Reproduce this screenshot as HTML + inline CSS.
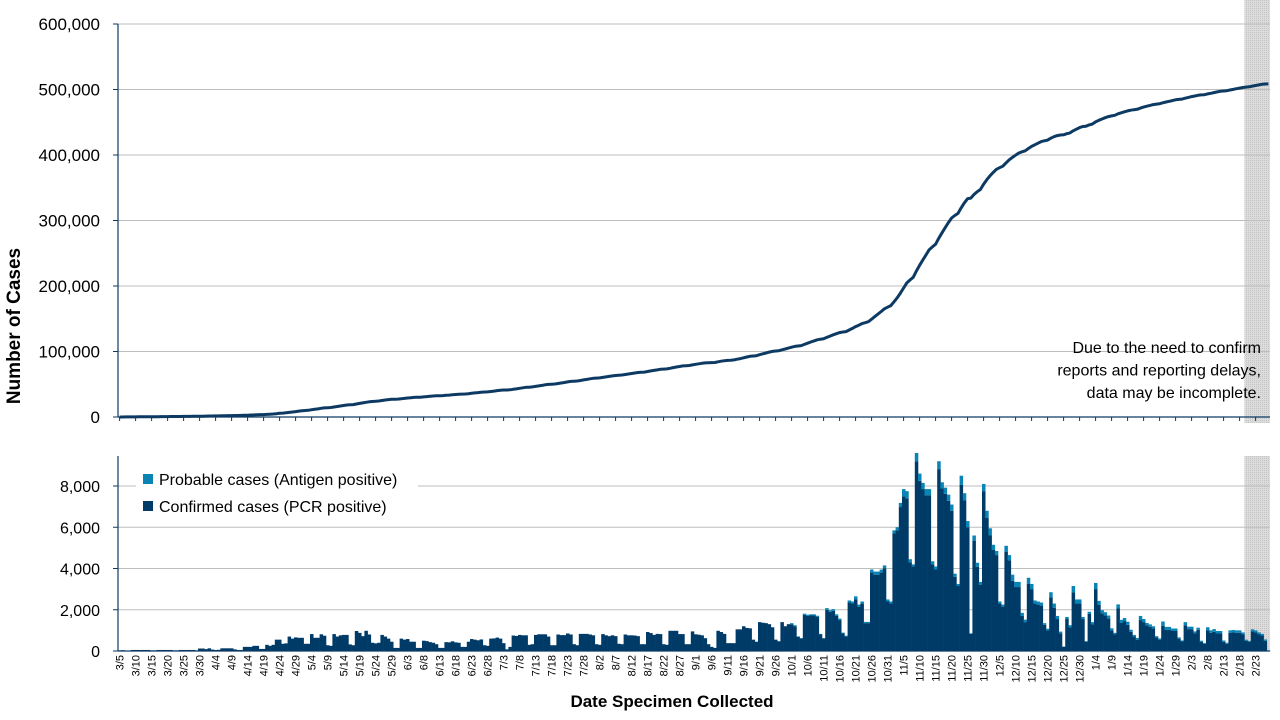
<!DOCTYPE html>
<html><head><meta charset="utf-8"><style>
html,body{margin:0;padding:0;background:#fff;}
svg{display:block;font-family:"Liberation Sans",sans-serif;}
</style></head><body>
<svg id="chart" width="1280" height="720" viewBox="0 0 1280 720">
<defs>
<pattern id="dots" width="2" height="2" patternUnits="userSpaceOnUse"><rect width="2" height="2" fill="#dcdcdc"/><rect width="1" height="1" fill="#c4c4c4"/></pattern>
</defs>
</svg>
<script>
const confirmedMar=[30,40,20,10,50,50,50,50,50,50,30,30,50,50,50,50,50,30,30,50,50,50,50,50,30,120,120];
const confirmedApr=[90,130,70,50,60,130,130,130,130,80,50,50,200,200,200,250,250,100,100,300,250,300,550,550,350,370,700,600,660,640];
const confirmedMay=[640,350,350,820,640,640,810,740,280,250,820,700,760,780,780,320,280,970,880,720,980,800,400,370,400,780,700,600,450,150,150];
const confirmedJun=[600,550,580,450,450,150,150,500,480,430,400,330,150,150,430,420,470,420,400,200,200,450,580,550,520,560,280,250,600,610];
const confirmedJul=[650,600,380,80,200,750,730,780,760,760,300,330,780,810,810,810,700,280,280,800,770,770,850,800,330,280,830,830,830,800,760];
const confirmedAug=[330,300,820,760,720,760,720,350,330,800,760,760,750,720,330,330,920,870,780,830,820,330,300,980,980,980,820,820,330,330,950];
const confirmedSep=[810,790,760,620,330,200,150,980,920,830,380,380,380,1050,1050,1200,1120,1100,550,450,1400,1370,1350,1300,1150,550,470,1400,1200,1300];
const confirmedOct=[1300,1200,680,600,1750,1700,1720,1720,1650,800,600,2000,1900,1950,1700,1500,850,700,2350,2300,2500,2150,2300,1350,1350,3800,3700,3700,3800,4000,2400];
const confirmedNov=[2300,5700,5850,6980,7500,7400,4300,4100,9200,8250,7850,7550,7550,4200,3950,8800,7880,7620,7280,6800,3600,3150,8050,7300,6000,830,5350,4080,3200,7750];
const confirmedDec=[6450,5600,4900,4650,2300,2150,4800,4400,3400,3100,3100,1700,1400,3250,3000,2300,2250,2200,1270,1000,2600,2100,1550,860,200,1550,1150,2850,2300,2300,1550];
const confirmedJan=[450,1800,1300,3000,2230,1830,1730,1570,1000,800,2060,1360,1450,1270,930,700,550,1500,1400,1240,1170,1100,660,550,1230,1020,1020,970,970,600,460];
const confirmedFeb=[1250,1060,1060,850,1030,450,350,1000,880,930,850,850,450,350,880,900,880,880,800,500,450,950,900,800,750,500,20];
const probableOct=[50,50,30,30,60,60,60,60,60,30,30,80,80,80,80,70,40,40,100,100,150,100,100,60,60,150,150,150,150,150,100];
const probableNov=[100,150,150,200,350,350,150,100,400,350,300,300,300,150,150,400,300,300,300,300,150,100,450,350,300,30,250,200,150,350];
const probableDec=[350,350,250,200,100,100,300,250,300,250,250,150,120,300,250,150,150,150,80,80,250,200,150,80,20,100,100,300,200,200,100];
const probableJan=[30,100,100,300,200,150,150,150,100,80,200,150,150,150,100,80,80,200,150,120,120,100,60,60,200,150,150,120,120,60,50];
const probableFeb=[150,120,120,100,100,50,40,150,120,130,120,120,60,50,120,120,120,120,100,50,40,100,100,100,80,60,0];
const topTicks=[0,100000,200000,300000,400000,500000,600000];
const bottomTicks=[0,2000,4000,6000,8000];
const startDate=[2020,3,5];
const incompleteFrom=352;

const confirmed=[].concat(confirmedMar,confirmedApr,confirmedMay,confirmedJun,confirmedJul,confirmedAug,confirmedSep,confirmedOct,confirmedNov,confirmedDec,confirmedJan,confirmedFeb);
const probLate=[].concat(probableOct,probableNov,probableDec,probableJan,probableFeb);
const probable=new Array(confirmed.length-probLate.length).fill(0).concat(probLate);
const N=confirmed.length;

const NS="http://www.w3.org/2000/svg";
const svg=document.getElementById('chart');
function mk(tag,attrs,parent){const e=document.createElementNS(NS,tag);for(const k in attrs)e.setAttribute(k,attrs[k]);(parent||svg).appendChild(e);return e;}

const X0=118,X1=1270,bw=(X1-X0)/N;
const xDay=i=>X0+i*bw;
const yTop=v=>417-v/600000*393;
const yBot=v=>651-v/8000*165;

// shaded incomplete regions
let sh=mk('rect',{x:xDay(incompleteFrom),y:0,width:X1-xDay(incompleteFrom),height:423,fill:'url(#dots)'});


sh=mk('rect',{x:xDay(incompleteFrom),y:456,width:X1-xDay(incompleteFrom),height:195,fill:'url(#dots)'});



// top gridlines & labels
topTicks.forEach(t=>{
  const y=yTop(t);
  if(t>0){const g=mk('line',{x1:X0,x2:X1,y1:y,y2:y,stroke:'#bdbdbd','stroke-width':1});
  
  }
  const tm=mk('line',{x1:X0-5,x2:X0,y1:y,y2:y,stroke:'#0d3a63'});
  
  
  const tx=mk('text',{x:100,y:y+6,'text-anchor':'end','font-size':17,fill:'#000'});
  tx.textContent=t.toLocaleString('en-US');
  
  
});
// bottom gridlines
bottomTicks.forEach(t=>{
  const y=yBot(t);
  if(t>0){const g=mk('line',{x1:X0,x2:X1,y1:y,y2:y,stroke:'#bdbdbd','stroke-width':1});
  
  }
  const tm=mk('line',{x1:X0-5,x2:X0,y1:y,y2:y,stroke:'#0d3a63'});
  
  
  const tx=mk('text',{x:100,y:y+6,'text-anchor':'end','font-size':16,fill:'#000'});
  tx.textContent=t.toLocaleString('en-US');
  
  
});

// bars
for(let i=0;i<N;i++){
  const c=confirmed[i],p=probable[i];
  const b=mk('rect',{x:xDay(i),y:yBot(c),width:bw+0.3,height:651-yBot(c),fill:'#003a66'});
  
  
  if(p>0){const q=mk('rect',{x:xDay(i),y:yBot(c+p),width:bw+0.3,height:yBot(c)-yBot(c+p),fill:'#0a84b4'});
  
  }
}

// cumulative line
let cum=0,pts=[];
for(let i=0;i<N;i++){cum+=confirmed[i]+probable[i];pts.push((xDay(i)+bw/2).toFixed(1)+','+yTop(cum).toFixed(1));}
const ln=mk('polyline',{points:pts.join(' '),fill:'none',stroke:'#0d3a63','stroke-width':3,'stroke-linejoin':'round'});



// axes
let ax=mk('line',{x1:X0,x2:X0,y1:24,y2:417,stroke:'#0d3a63','stroke-width':1.2});


ax=mk('line',{x1:X0,x2:X1,y1:417,y2:417,stroke:'#0d3a63','stroke-width':1.2});


ax=mk('line',{x1:X0,x2:X0,y1:456,y2:651,stroke:'#0d3a63','stroke-width':1.2});


ax=mk('line',{x1:X0,x2:X1,y1:651,y2:651,stroke:'#0d3a63','stroke-width':1.2});



// x ticks & labels every 5 days
const d0=new Date(startDate[0],startDate[1]-1,startDate[2]);
for(let i=0;i<N;i+=5){
  const x=xDay(i)+bw/2;
  const tk=mk('line',{x1:x,x2:x,y1:417,y2:421,stroke:'#0d3a63'});
  
  
  const d=new Date(d0.getTime()+i*86400000);
  const lbl=(d.getMonth()+1)+'/'+d.getDate();
  const t=mk('text',{x:0,y:0,'text-anchor':'end','font-size':11,fill:'#000',transform:`translate(${x+4},655) rotate(-90)`});
  t.textContent=lbl;
  
  
}

// titles
let tt=mk('text',{x:0,y:0,'text-anchor':'middle','font-size':19,'font-weight':'bold',transform:'translate(20,326) rotate(-90)'});
tt.textContent='Number of Cases';


tt=mk('text',{x:672,y:707,'text-anchor':'middle','font-size':17,'font-weight':'bold'});
tt.textContent='Date Specimen Collected';



// annotation
['Due to the need to confirm','reports and reporting delays,','data may be incomplete.'].forEach((s,k)=>{
  const a=mk('text',{x:1261,y:353+k*22.5,'text-anchor':'end','font-size':16});
  a.textContent=s;
  
  
});

// legend
const lg=mk('g',{});


mk('rect',{x:136,y:462,width:282,height:60,fill:'#fff'},lg);
[['#0a84b4','Probable cases (Antigen positive)',480],['#003a66','Confirmed cases (PCR positive)',507]].forEach(([c,s,y])=>{
  const g=mk('g',{},lg);
  
  
  mk('rect',{x:143,y:y-6,width:10,height:10,fill:c},g);
  const t=mk('text',{x:159,y:y+5,'font-size':16},g);
  t.textContent=s;
});
</script>
</body></html>
